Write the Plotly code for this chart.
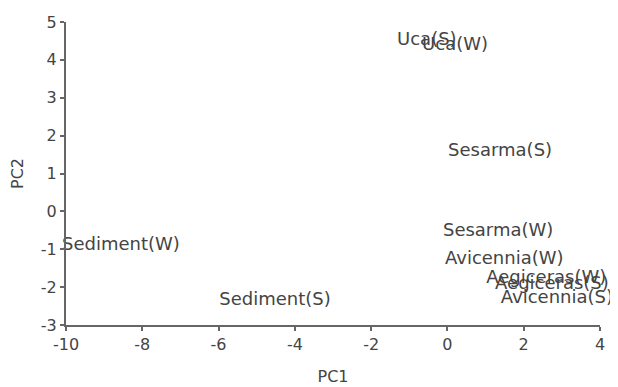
import plotly.graph_objects as go

labels = ["Uca(S)", "Uca(W)", "Sesarma(S)", "Sesarma(W)", "Avicennia(W)",
          "Aegiceras(W)", "Aegiceras(S)", "Avicennia(S)", "Sediment(W)", "Sediment(S)"]
pc1 = [-0.54, 0.20, 1.38, 1.33, 1.49, 2.59, 2.74, 2.87, -8.56, -4.52]
pc2 = [4.52, 4.37, 1.57, -0.52, -1.28, -1.76, -1.94, -2.29, -0.89, -2.34]

x_ticks = [-10, -8, -6, -4, -2, 0, 2, 4]
y_ticks = [-3, -2, -1, 0, 1, 2, 3, 4, 5]
x_tick_text = [str(v) for v in x_ticks]
y_tick_text = [str(v) for v in y_ticks]

font_fam = "DejaVu Sans"
col = "#444444"

fig = go.Figure(go.Scatter(
    x=pc1, y=pc2, mode="text", text=labels,
    textposition="middle center",
    textfont=dict(family=font_fam, size=18, color=col),
    cliponaxis=False, showlegend=False,
))

axis_common = dict(
    showgrid=False, zeroline=False, showline=True, linecolor="#666666", linewidth=2,
    ticks="outside", ticklen=4, tickwidth=2, tickcolor="#666666",
    tickfont=dict(family=font_fam, size=16, color=col),
    title_font=dict(family=font_fam, size=16, color=col),
    automargin=False,
)

fig.update_xaxes(range=[-10, 4], tickvals=x_ticks, ticktext=x_tick_text,
                 title_text="PC1", title_standoff=18, **axis_common)
fig.update_yaxes(range=[-3, 5], tickvals=y_ticks, ticktext=y_tick_text,
                 title_text="PC2", title_standoff=14, **axis_common)

# the page body adds an 8px margin, so the figure is sized to fit the window
fig.update_layout(
    width=610, height=379,
    margin=dict(l=58, r=18, t=14, b=62),
    plot_bgcolor="white", paper_bgcolor="white",
)

fig.write_html("out.html")
